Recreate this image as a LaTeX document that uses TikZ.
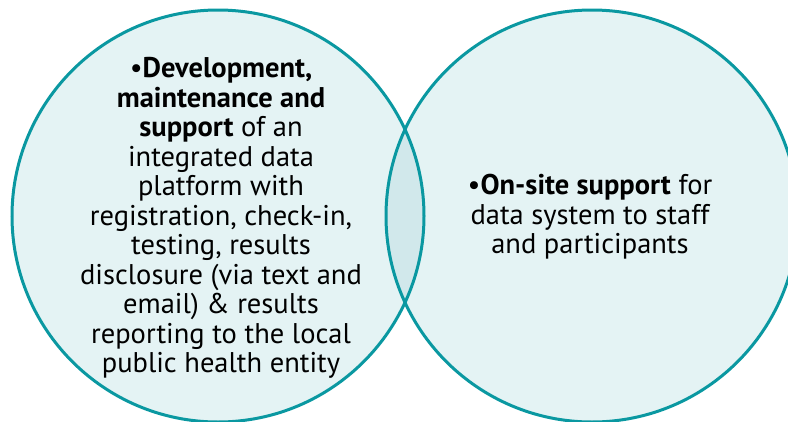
\documentclass[tikz,border=0pt]{standalone}
\usepackage{fontspec}
\setmainfont{PT Sans}
\definecolor{ring}{HTML}{0A98A1}
\definecolor{lightfill}{HTML}{E4F3F4}
\definecolor{lensfill}{HTML}{D1E8EB}
\begin{document}
\begin{tikzpicture}[x=1pt,y=-1pt,
  circ/.style={circle,draw=ring,line width=3pt,minimum size=412pt,inner sep=0pt},
  txt/.style={align=center,font=\fontsize{28.5}{29.5}\selectfont,inner sep=0pt}]
\useasboundingbox (0,0) rectangle (788,421);
\begin{scope}
\clip (0,0) rectangle (788,421);
\fill[lightfill] (218,216) circle (206);
\fill[lightfill] (592,216) circle (206);
\begin{scope}
\clip (218,216) circle (206);
\fill[lensfill] (592,216) circle (206);
\end{scope}
\node[circ] (L) at (218,216) {};
\node[circ] (R) at (592,216) {};
\end{scope}
\node[txt] (lt) at (221,218) {•\textbf{Development,}\\\textbf{maintenance and}\\\textbf{support} of an\\integrated data\\platform with\\registration, check-in,\\testing, results\\disclosure (via text and\\email) \& results\\reporting to the local\\public health entity};
\node[txt] (rt) at (590,217) {•\textbf{On-site support} for\\data system to staff\\and participants};
\end{tikzpicture}
\end{document}
